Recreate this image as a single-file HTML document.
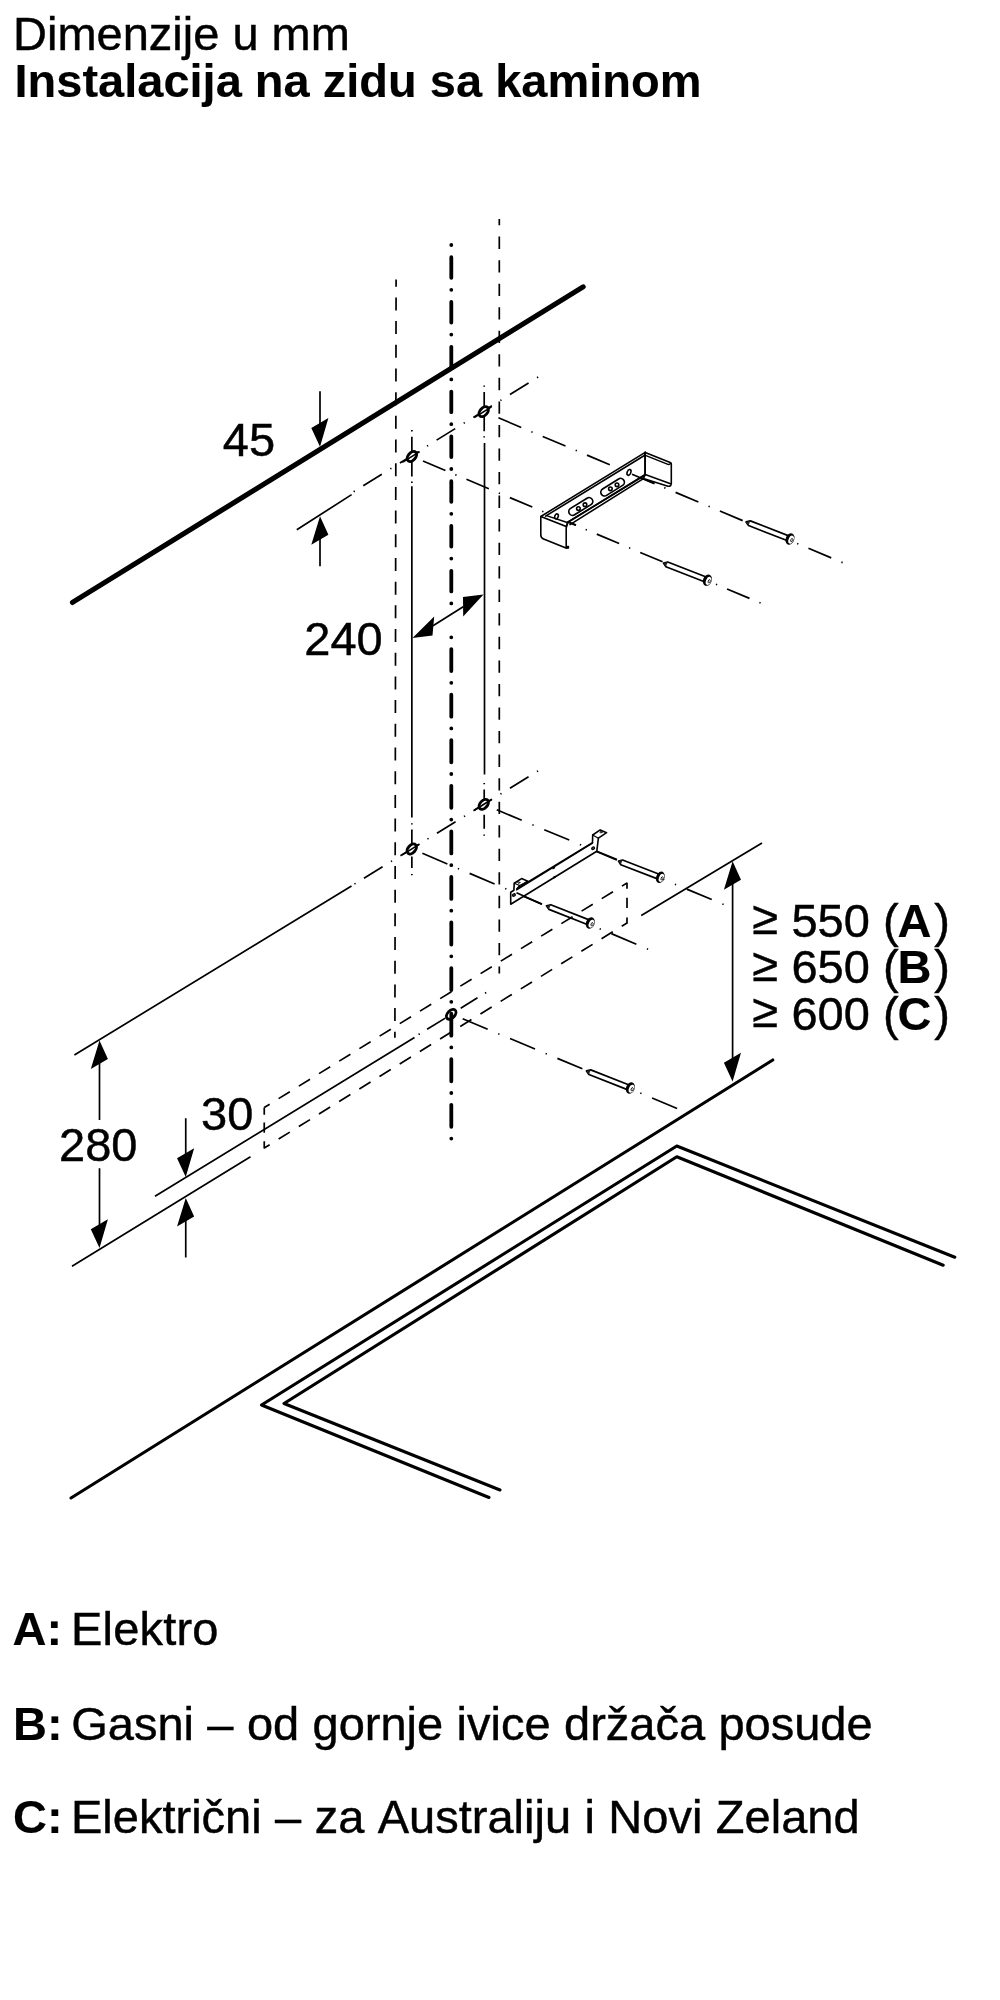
<!DOCTYPE html>
<html lang="sr">
<head>
<meta charset="utf-8">
<title>Dimenzije u mm</title>
<style>
html,body{margin:0;padding:0;background:#fff;}
body{width:1000px;height:2000px;overflow:hidden;font-family:"Liberation Sans",sans-serif;}
svg{display:block;position:absolute;left:0;top:0;will-change:transform;}
text{font-family:"Liberation Sans",sans-serif;font-size:47px;fill:#000;stroke:#000;stroke-width:0.45px;}
.b{font-weight:bold;stroke-width:0.12px;}
.thin{stroke:#000;stroke-width:1.7;fill:none;}
.ctr{stroke:#000;stroke-width:3.8;fill:none;stroke-linecap:round;}
.part{stroke:#000;stroke-width:1.6;fill:#fff;stroke-linejoin:round;stroke-linecap:round;}
.arr{fill:#000;stroke:none;}
</style>
</head>
<body>
<svg width="1000" height="2000" viewBox="0 0 1000 2000">
<!-- TEXT -->
<g id="txt">
<text x="13" y="50.4">Dimenzije u mm</text>
<text x="14.5" y="96.9" class="b">Instalacija na zidu sa kaminom</text>
<text x="222.8" y="456.3">45</text>
<text x="304.3" y="654.8">240</text>
<text x="59" y="1160.8">280</text>
<text x="201" y="1130">30</text>
<text x="752.6" y="936.6"><tspan dy="-2.7">≥</tspan><tspan dy="2.7"> 550 (</tspan><tspan class="b" dx="-1">A</tspan><tspan dx="2.8">)</tspan></text>
<text x="752.6" y="983.4"><tspan dy="-2.7">≥</tspan><tspan dy="2.7"> 650 (</tspan><tspan class="b" dx="-1">B</tspan><tspan dx="2.8">)</tspan></text>
<text x="752.6" y="1030.1"><tspan dy="-2.7">≥</tspan><tspan dy="2.7"> 600 (</tspan><tspan class="b" dx="-1">C</tspan><tspan dx="2.8">)</tspan></text>
<text x="12.5" y="1645.4" class="b">A:</text><text x="71" y="1645.4" letter-spacing="0.2">Elektro</text>
<text x="13.1" y="1740" class="b">B:</text><text x="71.2" y="1740" word-spacing="0.33">Gasni – od gornje ivice držača posude</text>
<text x="13.1" y="1833" class="b">C:</text><text x="71" y="1833" word-spacing="0.38" style="font-kerning:none">Električni – za Australiju i Novi Zeland</text>
</g>
<!-- THICK LINES -->
<g id="thick" stroke="#000" fill="none" stroke-linecap="round" stroke-linejoin="round">
<line x1="72.5" y1="602.4" x2="583.1" y2="286.9" stroke-width="5.2"/>
<line x1="71" y1="1498" x2="772.8" y2="1060" stroke-width="3.1"/>
<polyline points="954.8,1257.2 676.8,1146 261.5,1405 489,1497.5" stroke-width="3.1"/>
<polyline points="943.2,1265.2 676.8,1156.8 284,1403.5 500,1490" stroke-width="3.1"/>
</g>
<!-- GEOM:START -->
<path class="thin" d="M537.05,377.74L538.15,377.06M509.96,394.57L528.56,383.02M500.37,400.53L501.47,399.85M473.28,417.36L491.88,405.81M463.69,423.32L464.79,422.64M436.6,440.15L455.2,428.6M427.01,446.11L428.11,445.42M399.92,462.94L418.52,451.38M390.33,468.9L391.43,468.21M363.24,485.73L381.84,474.17M353.65,491.69L354.75,491M536.95,771.59L538.05,770.91M509.95,788.23L528.55,776.77M500.45,794.09L501.55,793.41M473.45,810.73L492.05,799.27M463.95,816.59L465.05,815.91M436.95,833.23L455.55,821.76M427.45,839.09L428.55,838.4M400.45,855.73L419.05,844.26M390.95,861.59L392.05,860.9M363.95,878.23L382.55,866.76M354.45,884.08L355.55,883.4M841.4,562.15L842.6,562.65M808.46,548.28L831.25,557.88M797.11,543.51L798.31,544.01M764.17,529.65L786.97,539.24M752.82,524.87L754.02,525.38M719.88,511.01L742.67,520.6M708.53,506.24L709.73,506.74M675.59,492.37L698.38,501.97M664.24,487.6L665.44,488.1M631.3,473.74L654.1,483.33M619.95,468.96L621.15,469.47M587,455.1L609.8,464.69M575.66,450.32L576.86,450.83M542.72,436.46L565.51,446.06M531.37,431.69L532.57,432.19M498.43,417.82L521.23,427.42M759.4,602.55L760.6,603.05M727.08,588.95L749.48,598.38M715.96,584.28L717.16,584.78M683.64,570.68L706.04,580.1M672.52,566.01L673.72,566.51M640.2,552.41L662.6,561.83M629.08,547.74L630.28,548.24M596.76,534.14L619.16,543.56M585.64,529.46L586.84,529.97M553.32,515.87L575.72,525.29M542.2,511.19L543.4,511.7M509.88,497.6L532.28,507.02M498.76,492.92L499.96,493.43M466.44,479.33L488.84,488.75M455.32,474.65L456.52,475.16M423,461.06L445.4,470.48M722.4,904L723.6,904.5M686.75,889.12L711.75,899.56M674.9,884.18L676.1,884.68M639.25,869.3L664.25,879.73M627.4,864.36L628.6,864.86M591.75,849.48L616.75,859.91M579.9,844.53L581.1,845.04M544.25,829.66L569.25,840.09M532.4,824.71L533.6,825.21M496.75,809.84L521.75,820.27M646.9,948.75L648.1,949.25M611.38,933.65L636.38,944.27M599.65,928.66L600.85,929.17M564.12,913.57L589.12,924.19M552.4,908.58L553.6,909.09M516.88,893.48L541.88,904.11M505.15,888.5L506.35,889.01M469.62,873.4L494.62,884.03M457.9,868.42L459.1,868.93M422.38,853.32L447.38,863.95M640.3,1093.05L641.5,1093.55M604.73,1078.18L629.73,1088.63M592.95,1073.26L594.15,1073.76M557.38,1058.39L582.38,1068.84M545.6,1053.46L546.8,1053.97M510.02,1038.59L535.02,1049.04M498.25,1033.67L499.45,1034.17M462.67,1018.8L487.67,1029.25M652.1,1098L677.1,1108.45M418.6,1034.5L419.7,1033.8M427.1,1029.3L445.3,1018.1M460.7,1008.3L477.5,997.8M485.1,993.2L486.2,992.5"/>
<path class="thin" d="M351.6,494.6 L296.8,529.8 M351.5,885.9 L74.4,1055 M414.5,1037.4 L155,1196.25 M250.5,1156.75 L72,1266.25 M641.25,915.5 L762,843 M411.85,486.3 V817.5 M484.5,443.1 V774.5 M411.85,430.1 v1.3 M411.85,436.8 V452 M411.85,461.5 V476.4 M411.85,481.6 v1.3 M411.85,823.3 v1.3 M411.85,829.5 V844 M411.85,856.6 V868 M411.85,874 v1.3 M484.2,385.4 v1.3 M484.2,392 V407 M484.2,417 V431.2 M484.2,436.2 v1.3 M484.2,783 v1.3 M484.2,789.6 V799 M484.2,814.8 V828.8 M484.2,834.4 v1.3 M320,391.3 V428 M320,535 V566.3 M99.5,1060 V1120 M99.5,1168.3 V1228 M185.75,1118.3 V1158 M185.75,1218 V1257.5 M732.6,880 V1060 M433,625.8 L463.2,606.8"/>
<path class="thin" stroke-dasharray="13 10.69" stroke-dashoffset="5.9" d="M396.1,279.6 L394.9,1037.7"/>
<path class="thin" stroke-dasharray="12.3 11.245" stroke-dashoffset="6.05" d="M499.3,219.1 V973.4"/>
<ellipse cx="451.2" cy="1014.3" rx="5.75" ry="3.65" transform="rotate(-48 451.2 1014.3)" fill="#fff" stroke="#000" stroke-width="2.9"/>
<path class="ctr" stroke-dasharray="0 12.2 20.6 12" d="M451.3,245 V603.45"/>
<path class="ctr" stroke-dasharray="0 11.8 22 11.77" d="M451.3,637.3 V1138.65"/>
<path class="arr" d="M320,446.8l-8.7,-18.8l17.1,-9.9zM320,516.3l-8.7,28.5l17.1,-10.1zM99.5,1040.5l-8.7,28.5l17.1,-10.1zM99.5,1248l-8.7,-18.8l17.1,-9.9zM185.75,1177l-8.7,-18.8l17.1,-9.9zM185.75,1198l-8.7,28.5l17.1,-10.1zM732.6,861.3l-8.7,28.5l17.1,-10.1zM732.6,1081.5l-8.7,-18.8l17.1,-9.9zM412.5,638L434.2,616.5L432.5,635.5zM483.5,594.5L463,597L463.2,616.5z"/>
<ellipse cx="411.9" cy="456.5" rx="5.75" ry="3.65" transform="rotate(-48 411.9 456.5)" fill="#fff" stroke="#000" stroke-width="2.9"/>
<path class="thin" d="M402.4,462.4L419.7,451.65"/>
<ellipse cx="483.7" cy="411.7" rx="5.75" ry="3.65" transform="rotate(-48 483.7 411.7)" fill="#fff" stroke="#000" stroke-width="2.9"/>
<path class="thin" d="M474.2,417.6L491.5,406.85"/>
<ellipse cx="411.75" cy="849" rx="5.75" ry="3.65" transform="rotate(-48 411.75 849)" fill="#fff" stroke="#000" stroke-width="2.9"/>
<path class="thin" d="M402.25,854.9L419.55,844.15"/>
<ellipse cx="483.75" cy="804.3" rx="5.75" ry="3.65" transform="rotate(-48 483.75 804.3)" fill="#fff" stroke="#000" stroke-width="2.9"/>
<path class="thin" d="M474.25,810.2L491.55,799.45"/>
<!-- GEOM:END -->
<!-- PARTS:START -->
<defs>
<g id="scr">
<path d="M0.3,0L3.9,-2.5L44.5,-2.5V2.5L3.9,2.5Z" fill="#fff" stroke="#000" stroke-width="1.7" stroke-linejoin="round"/>
<path d="M0.3,0L3.9,-2.5V2.5Z" fill="#222" stroke="none"/>
<ellipse cx="47.4" cy="0" rx="4.3" ry="5.9" fill="#000"/>
<ellipse cx="48.7" cy="0.2" rx="2.5" ry="4.2" fill="#fff"/>
<ellipse cx="49.5" cy="0.4" rx="1" ry="1.7" fill="none" stroke="#000" stroke-width="0.8"/>
</g>
</defs>
<!-- upper bracket -->
<g class="part" stroke-width="1.9">
<!-- back plate -->
<path d="M540.8,516.5L645.2,452.4V475L567.5,522.5L566.5,527L540.8,517Z"/>
<path d="M545.6,516.1L645.2,455" fill="none"/>
<path d="M567.6,522.3L645.2,474.5M570,524.6L643.4,478.6" fill="none"/>
<!-- right flap -->
<path d="M645.2,452.4L670.2,462.4Q671.3,462.9 671.3,464V483.6Q671.3,485.6 669.6,486.3L668,486.2L643.4,478.6L645.2,474.5Z"/>
<path d="M646,455.6L668.6,464.6L671,463.4M645.2,474.5L670.6,483.8" fill="none" stroke-width="1.5"/>
<path d="M645.2,452.4V475" fill="none"/>
<!-- left flap -->
<path d="M540.8,516.5L566.2,526.4V546.8L568.4,546.6L568.4,548L566,548.1L543.6,539Q540.8,537.8 540.8,535Z"/>
<path d="M546.5,515.6L568,522.8L566.2,526.4" fill="none" stroke-width="1.5"/>
<!-- slots -->
<path d="M572.6,511.6L589,501.4M604.6,492.2L620.6,482.2" fill="none" stroke="#000" stroke-width="9.2"/>
<path d="M572.6,511.6L589,501.4M604.6,492.2L620.6,482.2" fill="none" stroke="#fff" stroke-width="5.9"/>
<g stroke-width="1.6" fill="none">
<circle cx="578.4" cy="508.6" r="1.8"/><circle cx="585" cy="504.7" r="1.8"/>
<circle cx="610.4" cy="488.8" r="1.8"/><circle cx="617" cy="484.8" r="1.8"/>
<ellipse cx="556.5" cy="516.4" rx="1.7" ry="2.6" transform="rotate(20 556.5 516.4)"/>
<ellipse cx="629" cy="472.4" rx="1.8" ry="3" transform="rotate(20 629 472.4)"/>
</g>
</g>
<!-- centre-lines emerging from upper bracket holes -->
<path class="thin" d="M632,474.3L654.6,483.8M567.8,521.6L576,525.1"/>
<!-- lower bracket -->
<g class="part" stroke-width="1.6">
<path d="M510.7,892.2L513.9,890.3L514.2,883.2L521.6,878.6L527.8,881.2L517,888.6L592.5,842.6L592.7,835L600.2,829.9L606.6,832.7L598.4,838.2L596.8,851.2L510.7,904.2Z"/>
<path d="M516.6,889.9L592.5,843.2" fill="none" stroke-width="1.5"/>
<path d="M553.2,868.2l1,-0.6M554,877.4l1,-0.6" fill="none" stroke-width="2"/>
<path d="M514.2,883.2L519.6,885.4L527.8,881.2M519.6,885.4L517,888.6" fill="none" stroke-width="1.1"/>
<path d="M592.7,835L598.4,838.2" fill="none" stroke-width="1.1"/>
<ellipse cx="513.9" cy="895" rx="1.5" ry="1.1" transform="rotate(-30 513.9 895)" stroke-width="1.3" fill="#777"/>
<ellipse cx="593.1" cy="848.2" rx="1.5" ry="1.1" transform="rotate(-30 593.1 848.2)" stroke-width="1.3" fill="#777"/>
<ellipse cx="518.8" cy="882.6" rx="1.1" ry="0.7" stroke-width="0.9"/>
<ellipse cx="601" cy="832.2" rx="1.1" ry="0.7" stroke-width="0.9"/>
</g>
<path class="thin" d="M516.5,892.8L542,904.2M596.8,851.2L617,859.6"/>
<!-- screws -->
<use href="#scr" transform="translate(745.8,521.8) rotate(21.3)"/>
<use href="#scr" transform="translate(663.2,563) rotate(21.2)"/>
<use href="#scr" transform="translate(618.2,861) rotate(21.15) scale(0.953,1)"/>
<use href="#scr" transform="translate(546.2,905.6) rotate(21.6)"/>
<use href="#scr" transform="translate(586.2,1070.8) rotate(21.4)"/>

<!-- PARTS:END -->
<!-- GEOM2:START -->
<path class="thin" stroke-dasharray="13.2 10.55" stroke-dashoffset="6.85" d="M264.25,1107.5 L627,883"/>
<path class="thin" stroke-dasharray="13.2 10.55" stroke-dashoffset="6.85" d="M264.25,1148 L627,923"/>
<path class="thin" stroke-dasharray="7.3 7.6 10.4 8.4 7.8 0" d="M264.25,1107.5 V1148.6"/>
<path class="thin" stroke-dasharray="6 9 10.2 9.6 6.2 0" d="M627,882.8 V923.8"/>
<!-- GEOM2:END -->
</svg>
</body>
</html>
